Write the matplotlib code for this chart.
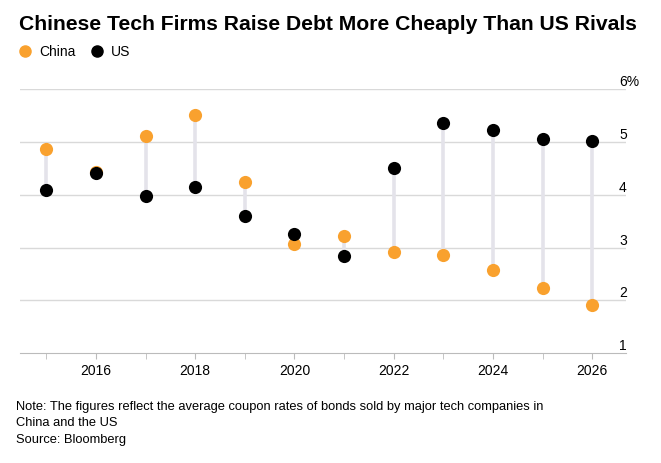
import matplotlib
matplotlib.use("Agg")
from matplotlib import pyplot as plt
from matplotlib.lines import Line2D

years = [2015, 2016, 2017, 2018, 2019, 2020, 2021, 2022, 2023, 2024, 2025, 2026]
china = [4.86, 4.43, 5.12, 5.50, 4.25, 3.06, 3.21, 2.91, 2.86, 2.58, 2.23, 1.92]
us = [4.09, 4.41, 3.98, 4.15, 3.60, 3.25, 2.85, 4.50, 5.36, 5.22, 5.06, 5.01]
y_ticks = [1, 2, 3, 4, 5, 6]
y_labels = ['1', '2', '3', '4', '5', '6%']
x_ticks = [2016, 2018, 2020, 2022, 2024, 2026]

orange = '#f9a12e'
plt.rcParams['font.family'] = ['Liberation Sans', 'DejaVu Sans']

fig = plt.figure(figsize=(6.61, 4.63), dpi=100)
ax = fig.add_axes([20/661, 1-353.3/463, (626-20)/661, (353.3-89)/463])

ax.set_xlim(2014.47, 2026.68)
ax.set_ylim(1, 6)

# grid lines
for v in y_ticks[1:]:
    ax.axhline(v, color='#d9d9d9', lw=1, zorder=0)

# connectors
ax.vlines(years, china, us, color='#e4e3ea', lw=2.6, zorder=1)
ax.scatter(years, china, s=90, color=orange, zorder=2, linewidths=0)
ax.scatter(years, us, s=90, color='black', zorder=3, linewidths=0)

# y labels on the right, sitting above the lines
for v, lab in zip(y_ticks, y_labels):
    ax.text((619-20)/606, v, lab, transform=ax.get_yaxis_transform(), ha='left',
            va='bottom', fontsize=10, color='black')
ax.set_yticks([])

ax.set_xticks(years, minor=True)
ax.set_xticks(x_ticks)
ax.set_xticklabels([str(x) for x in x_ticks], fontsize=10)
ax.tick_params(axis='x', which='both', length=4, color='#bbbbbb', pad=4)
for s in ['top', 'right', 'left']:
    ax.spines[s].set_visible(False)
ax.spines['bottom'].set_color('#bbbbbb')

fig.text(19/661, 1-25/463, 'Chinese Tech Firms Raise Debt More Cheaply Than US Rivals',
         fontsize=15.2, fontweight='bold', va='center', ha='left')

handles = [Line2D([], [], marker='o', ls='', color=orange, markersize=8),
           Line2D([], [], marker='o', ls='', color='black', markersize=8)]
fig.legend(handles, ['China', 'US'], loc='center left', bbox_to_anchor=(4/661, 1-52/463),
           ncol=2, frameon=False, fontsize=10, handletextpad=0.45, columnspacing=0.9,
           handlelength=1.2)

fig.text(16/661, 1-401/463,
         'Note: The figures reflect the average coupon rates of bonds sold by major tech companies in\n'
         'China and the US\nSource: Bloomberg',
         fontsize=9.3, va='top', ha='left', linespacing=1.5)

fig.savefig('out.png', dpi=100)
